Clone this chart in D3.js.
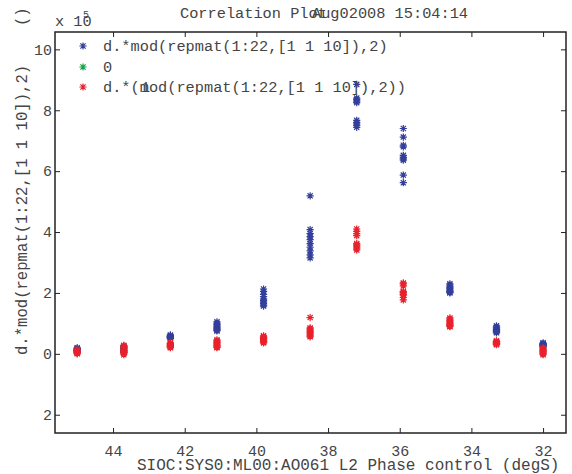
<!DOCTYPE html>
<meta charset="utf-8">
<style>
	body { margin: 0; background: #fff; }
	text { font-family: "Liberation Mono", "DejaVu Sans Mono", monospace; fill: #444; }
</style>
<body>
<script src="https://cdn.jsdelivr.net/npm/d3@7"></script>
<script>

	// Phase setting of each step (degS)
	var phase = [-45, -43.7, -42.4, -41.1, -39.8, -38.5, -37.2, -35.9, -34.6, -33.3, -32];

	// Blue series, 10 samples per step (x 10^5)
	var seriesOdd = [
		[0.20, 0.18, 0.16, 0.15, 0.14, 0.12, 0.11, 0.10, 0.09, 0.08],
		[0.25, 0.22, 0.20, 0.18, 0.15, 0.12, 0.10, 0.08, 0.05, 0.03],
		[0.62, 0.60, 0.58, 0.57, 0.56, 0.55, 0.54, 0.53, 0.52, 0.51],
		[1.05, 1.00, 0.96, 0.92, 0.89, 0.86, 0.83, 0.80, 0.77, 0.75],
		[2.13, 2.05, 1.95, 1.88, 1.80, 1.75, 1.70, 1.65, 1.60, 1.57],
		[5.19, 4.08, 3.95, 3.85, 3.75, 3.62, 3.50, 3.38, 3.25, 3.15],
		[8.85, 8.40, 8.35, 8.30, 8.25, 7.67, 7.60, 7.55, 7.50, 7.44],
		[7.40, 7.12, 6.85, 6.80, 6.52, 6.45, 6.40, 6.36, 5.87, 5.62],
		[2.30, 2.26, 2.22, 2.18, 2.14, 2.10, 2.07, 2.04, 2.02, 2.00],
		[0.92, 0.88, 0.85, 0.82, 0.80, 0.78, 0.76, 0.74, 0.71, 0.69],
		[0.36, 0.34, 0.32, 0.31, 0.30, 0.28, 0.27, 0.26, 0.24, 0.23]
	];

	// Red series, 10 samples per step (x 10^5)
	var seriesEven = [
		[0.15, 0.12, 0.10, 0.08, 0.06, 0.05, 0.04, 0.03, 0.02, 0.00],
		[0.28, 0.25, 0.22, 0.20, 0.15, 0.12, 0.10, 0.05, 0.02, -0.03],
		[0.36, 0.34, 0.32, 0.30, 0.28, 0.26, 0.25, 0.23, 0.22, 0.20],
		[0.46, 0.43, 0.40, 0.37, 0.34, 0.30, 0.27, 0.25, 0.22, 0.20],
		[0.59, 0.56, 0.53, 0.50, 0.47, 0.45, 0.43, 0.40, 0.38, 0.36],
		[1.19, 0.85, 0.82, 0.78, 0.74, 0.70, 0.66, 0.62, 0.59, 0.56],
		[4.10, 4.02, 3.95, 3.88, 3.62, 3.58, 3.54, 3.50, 3.45, 3.41],
		[2.33, 2.30, 2.23, 2.05, 2.03, 2.00, 1.95, 1.93, 1.85, 1.77],
		[1.18, 1.14, 1.10, 1.06, 1.02, 0.99, 0.96, 0.93, 0.91, 0.89],
		[0.43, 0.41, 0.40, 0.38, 0.37, 0.35, 0.34, 0.33, 0.31, 0.30],
		[0.20, 0.17, 0.14, 0.12, 0.10, 0.07, 0.05, 0.02, 0.00, -0.03]
	];

	// Ticks and the labels as printed (the minus glyph is missing in the original)
	var xTicks = [-44, -42, -40, -38, -36, -34, -32];
	var xTickLabels = ["44", "42", "40", "38", "36", "34", "32"];
	var yTicks = [10, 8, 6, 4, 2, 0, -2];
	var yTickLabels = ["10", "8", "6", "4", "2", "0", "2"];

	var legendNames = ["d.*mod(repmat(1:22,[1 1 10]),2)", "0", "d.*(mod(repmat(1:22,[1 1 10]),2))"];
	var colors = ["#333f9a", "#17a04c", "#e8222c"];

	var W = 572, H = 474;
	var pLeft = 55, pRight = 566, pTop = 32, pBottom = 433;

	var svg = d3.select("body").append("svg")
		.attr("width", W)
		.attr("height", H);

	var x = d3.scaleLinear().domain([-45.62, -31.36]).range([pLeft, pRight]);
	var y = d3.scaleLinear().domain([-2.6, 10.57]).range([pBottom, pTop]);

	//Axes: ticks pointing inward on all four sides
	var tl = 5;
	svg.append("g").attr("transform", "translate(0," + pBottom + ")")
		.call(d3.axisBottom(x).tickValues(xTicks).tickSizeInner(-tl).tickSizeOuter(0)
			.tickFormat(function(d, i) { return xTickLabels[i]; }).tickPadding(12));
	svg.append("g").attr("transform", "translate(0," + pTop + ")")
		.call(d3.axisTop(x).tickValues(xTicks).tickSizeInner(-tl).tickSizeOuter(0).tickFormat(""));
	svg.append("g").attr("transform", "translate(" + pLeft + ",0)")
		.call(d3.axisLeft(y).tickValues(yTicks).tickSizeInner(-tl).tickSizeOuter(0)
			.tickFormat(function(d, i) { return yTickLabels[i]; }).tickPadding(3));
	svg.append("g").attr("transform", "translate(" + pRight + ",0)")
		.call(d3.axisRight(y).tickValues(yTicks).tickSizeInner(-tl).tickSizeOuter(0).tickFormat(""));

	svg.selectAll(".domain").remove();
	svg.selectAll(".tick line").attr("stroke", "#222").attr("stroke-width", 1);
	svg.selectAll(".tick text")
		.attr("font-family", "Liberation Mono, monospace")
		.attr("font-size", "15px")
		.attr("fill", "#444");

	svg.append("rect")
		.attr("x", pLeft).attr("y", pTop)
		.attr("width", pRight - pLeft).attr("height", pBottom - pTop)
		.attr("fill", "none").attr("stroke", "#222").attr("stroke-width", 1.5);

	//MATLAB style '*' marker
	var r = 3.6, k = r * 0.72;
	var star = "M" + (-r) + ",0H" + r + "M0," + (-r) + "V" + r +
		"M" + (-k) + "," + (-k) + "L" + k + "," + k + "M" + (-k) + "," + k + "L" + k + "," + (-k);

	function drawSeries(values, color) {
		var pts = [];
		values.forEach(function(col, i) {
			col.forEach(function(v) { pts.push({ x: phase[i], v: v }); });
		});
		svg.append("g").selectAll("path")
			.data(pts)
			.enter()
			.append("path")
			.attr("d", star)
			.attr("transform", function(d) { return "translate(" + x(d.x) + "," + y(d.v) + ")"; })
			.attr("fill", "none")
			.attr("stroke", color)
			.attr("stroke-width", 1.2);
	}
	drawSeries(seriesOdd, colors[0]);
	drawSeries(seriesEven, colors[2]);

	//Legend
	var ly = [46, 67, 87];
	legendNames.forEach(function(name, i) {
		svg.append("path").attr("d", star)
			.attr("transform", "translate(83," + ly[i] + ")")
			.attr("fill", "none").attr("stroke", colors[i]).attr("stroke-width", 1.2);
		svg.append("text").attr("x", 103).attr("y", ly[i] + 5)
			.attr("font-size", "15.3px").text(name);
	});
	// the overprinted "1" in the third legend entry
	svg.append("text").attr("x", 141).attr("y", ly[2] + 5)
		.attr("font-size", "15.3px").text("1");

	//Titles
	svg.append("text").attr("x", 180).attr("y", 18).attr("font-size", "15.3px").text("Correlation Plot");
	svg.append("text").attr("x", 312).attr("y", 18).attr("font-size", "15.3px").text("Aug02008 15:04:14");

	svg.append("text").attr("x", 55).attr("y", 26).attr("font-size", "15.3px").text("x 10");
	svg.append("text").attr("x", 83).attr("y", 18).attr("font-size", "10px").text("5");

	svg.append("text")
		.attr("transform", "translate(137,470)")
		.attr("font-size", "16px")
		.text("SIOC:SYS0:ML00:AO061 L2 Phase control (degS)");

	svg.append("text")
		.attr("transform", "translate(27,355) rotate(-90)")
		.attr("font-size", "15.6px")
		.text("d.*mod(repmat(1:22,[1 1 10]),2)");
	svg.append("text")
		.attr("transform", "translate(27,26) rotate(-90)")
		.attr("font-size", "15.6px")
		.text("()");

</script>
</body>
